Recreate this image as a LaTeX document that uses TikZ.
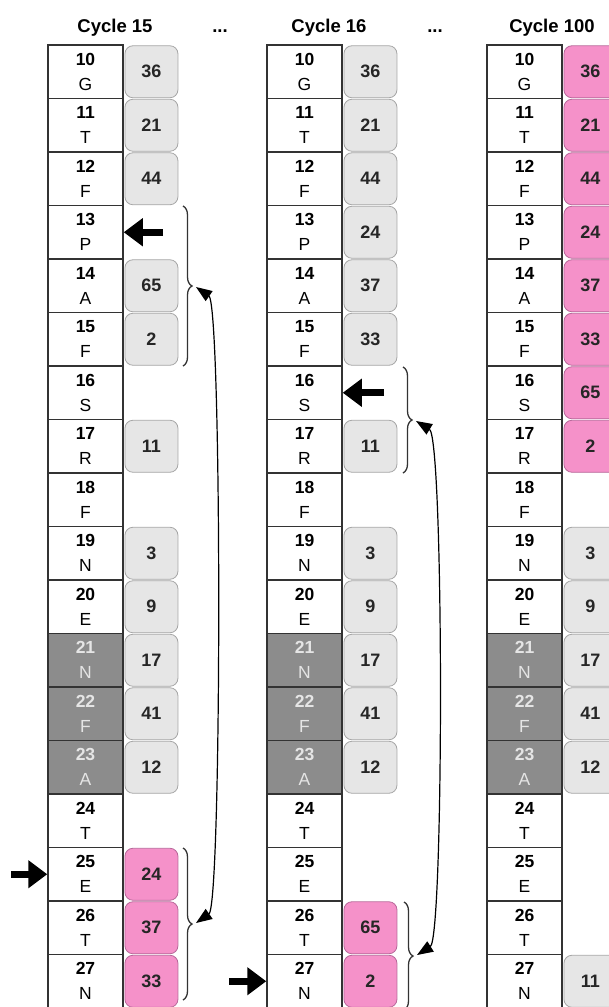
\documentclass[tikz,border=0pt]{standalone}
\usepackage{fontspec}
\setmainfont{Liberation Sans}
\usetikzlibrary{arrows.meta,decorations.pathreplacing}
\definecolor{valgray}{HTML}{E6E6E6}
\definecolor{valedge}{HTML}{A6A6A6}
\definecolor{pinkfill}{HTML}{F591C9}
\definecolor{pinkedge}{HTML}{B8689A}
\definecolor{cellgray}{HTML}{8C8C8C}
\begin{document}
\begin{tikzpicture}[x=1pt,y=-1pt,
cell/.style={draw=black!80, line width=1.5pt, minimum width=75pt, minimum height=53.5pt, inner sep=0pt, align=center, font=\fontsize{17.5}{25}\selectfont},
dark/.style={cell, fill=cellgray, text=black!10},
val/.style={draw=valedge, fill=valgray, rounded corners=8pt, line width=0.8pt, minimum width=53pt, minimum height=52pt, anchor=west, xshift=0.8pt, font=\bfseries\fontsize{18}{20}\selectfont, text=black!85},
pinkval/.style={val, draw=pinkedge, fill=pinkfill},
head/.style={anchor=base, font=\bfseries\fontsize{18.5}{22}\selectfont},
fat/.style={line width=7pt, arrows={-Triangle[length=19pt,width=27pt]}},
brc/.style={decorate, decoration={brace, amplitude=9pt}, line width=1.3pt, draw=black!80},
dbl/.style={line width=1.2pt, arrows={Triangle[length=16pt,width=12pt]-Triangle[length=16pt,width=12pt]}}
]
\useasboundingbox (0,0) rectangle (608,1007);

% column heads
\node[head] (h1) at (115,32) {Cycle 15};
\node[head] (d1) at (220,32) {...};
\node[head] (h2) at (329,32) {Cycle 16};
\node[head] (d2) at (435,32) {...};
\node[head] (h3) at (552,32) {Cycle 100};

% residue cells
\foreach \r/\l/\s [count=\i from 0] in {10/G/cell, 11/T/cell, 12/F/cell, 13/P/cell, 14/A/cell, 15/F/cell, 16/S/cell, 17/R/cell, 18/F/cell, 19/N/cell, 20/E/cell, 21/N/dark, 22/F/dark, 23/A/dark, 24/T/cell, 25/E/cell, 26/T/cell, 27/N/cell}
\foreach \c/\x in {1/48, 2/267, 3/487}
\node[\s] (c\c-\r) at (\x+37.5, 45+53.5*\i+26.75) {\textbf{\r}\\\l};

% values
\foreach \c/\r/\v/\s in {1/10/36/val, 1/11/21/val, 1/12/44/val, 1/14/65/val, 1/15/2/val, 1/17/11/val, 1/19/3/val, 1/20/9/val, 1/21/17/val, 1/22/41/val, 1/23/12/val, 1/25/24/pinkval, 1/26/37/pinkval, 1/27/33/pinkval,
2/10/36/val, 2/11/21/val, 2/12/44/val, 2/13/24/val, 2/14/37/val, 2/15/33/val, 2/17/11/val, 2/19/3/val, 2/20/9/val, 2/21/17/val, 2/22/41/val, 2/23/12/val, 2/26/65/pinkval, 2/27/2/pinkval,
3/10/36/pinkval, 3/11/21/pinkval, 3/12/44/pinkval, 3/13/24/pinkval, 3/14/37/pinkval, 3/15/33/pinkval, 3/16/65/pinkval, 3/17/2/pinkval, 3/19/3/val, 3/20/9/val, 3/21/17/val, 3/22/41/val, 3/23/12/val, 3/27/11/val}
\node[\s] (v\c-\r) at (c\c-\r.east) {\v};

% pointers
\path
(163,232.25) coordinate (p1)
(11,874.25) coordinate (p2)
(384,392.75) coordinate (p3)
(229,981.25) coordinate (p4)
;
\draw[fat] (p1) -- (c1-13.east);
\draw[fat] (p2) -- (c1-25.west);
\draw[fat] (p3) -- (c2-16.east);
\draw[fat] (p4) -- (c2-27.west);

% braces and moves
\path
(183,206) coordinate (b1a) (183,366) coordinate (b1b)
(183,848) coordinate (b2a) (183,1000) coordinate (b2b)
(403,367) coordinate (b3a) (403,473) coordinate (b3b)
(404,902) coordinate (b4a) (404,1010) coordinate (b4b)
(196,287) coordinate (k1) (196,923) coordinate (k2)
(416,421) coordinate (k3) (417,955) coordinate (k4)
;
\draw[brc] (b1a) -- (b1b);
\draw[brc] (b2a) -- (b2b);
\draw[brc] (b3a) -- (b3b);
\draw[brc] (b4a) -- (b4b);
\draw[dbl] (k1) .. controls (222,305) and (222,905) .. (k2);
\draw[dbl] (k3) .. controls (444,438) and (444,938) .. (k4);
\end{tikzpicture}
\end{document}
